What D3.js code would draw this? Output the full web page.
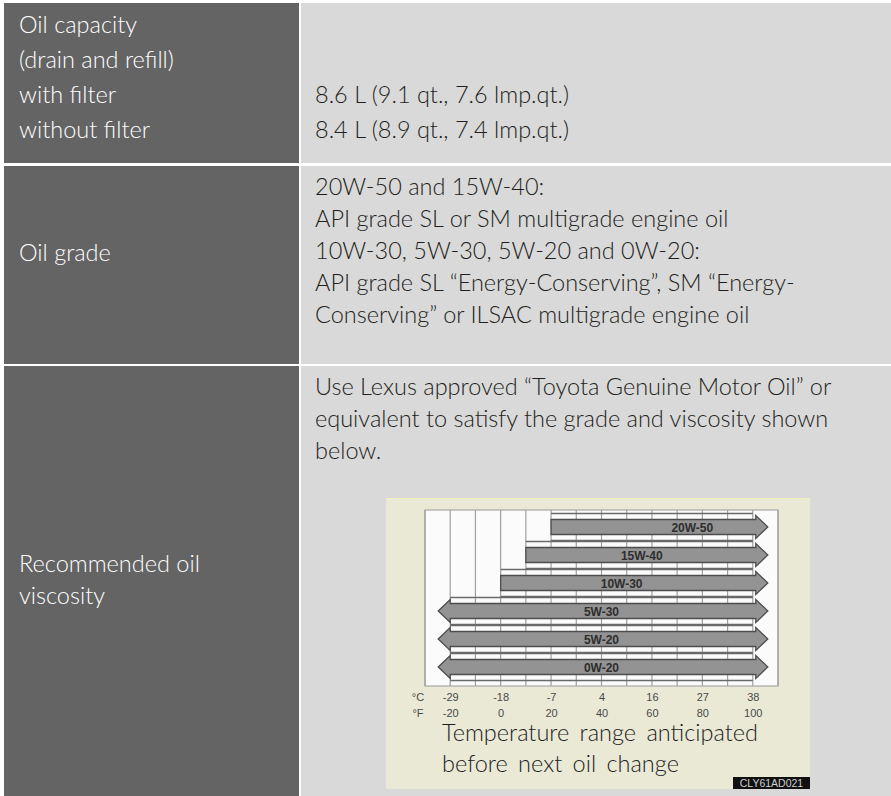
<!DOCTYPE html>
<html>
<head>
<meta charset="utf-8">
<script src="https://cdn.jsdelivr.net/npm/d3@7"></script>
<style>
  html, body { margin: 0; padding: 0; background: #ffffff; }
  svg { display: block; }
</style>
</head>
<body>
<script>
// ---------------- DATA ----------------
const capacityLabels = ["Oil capacity", "(drain and refill)", "with filter", "without filter"];
const capacityValues = ["8.6 L (9.1 qt., 7.6 lmp.qt.)", "8.4 L (8.9 qt., 7.4 lmp.qt.)"];
const gradeLabel = ["Oil grade"];
const gradeLines = [
  "20W-50 and 15W-40:",
  "API grade SL or SM multigrade engine oil",
  "10W-30, 5W-30, 5W-20 and 0W-20:",
  "API grade SL \u201CEnergy-Conserving\u201D, SM \u201CEnergy-",
  "Conserving\u201D or ILSAC multigrade engine oil"
];
const viscosityLabel = ["Recommended oil", "viscosity"];
const viscosityLines = [
  "Use Lexus approved \u201CToyota Genuine Motor Oil\u201D or",
  "equivalent to satisfy the grade and viscosity shown",
  "below."
];
// chart data
const grades   = ["20W-50", "15W-40", "10W-30", "5W-30", "5W-20", "0W-20"];
const lowF     = [20, 10, 0, -20, -20, -20];
const highF    = [100, 100, 100, 100, 100, 100];
const openLow  = [false, false, false, true, true, true];
const labelF   = [76, 56, 48, 40, 40, 40];
const gridF    = [-30, -20, -10, 0, 10, 20, 30, 40, 50, 60, 70, 80, 90, 100, 110];
const tickF    = [-20, 0, 20, 40, 60, 80, 100];
const tickC    = ["-29", "-18", "-7", "4", "16", "27", "38"];
const captionLines = ["Temperature range anticipated", "before next oil change"];
const imageCode = "CLY61AD021";

// ---------------- LAYOUT ----------------
const W = 891, H = 796;
const svg = d3.select("body").append("svg").attr("width", W).attr("height", H);
const FONT = "Lato, 'Open Sans', sans-serif";
const SANS = "Arial, 'Liberation Sans', sans-serif";
const leftX0 = 4, leftX1 = 299, rightX0 = 301;
const rows = [[3, 163], [166, 364], [366, 796]];

rows.forEach(([y0, y1]) => {
  svg.append("rect").attr("x", leftX0).attr("y", y0).attr("width", leftX1 - leftX0).attr("height", y1 - y0).attr("fill", "#646464");
  svg.append("rect").attr("x", rightX0).attr("y", y0).attr("width", W - rightX0).attr("height", y1 - y0).attr("fill", "#d9d9d9");
});

function textBlock(lines, x, firstBaseline, lh, fill) {
  const g = svg.append("g");
  g.selectAll("text").data(lines).join("text")
    .attr("x", x).attr("y", (d, i) => firstBaseline + i * lh)
    .attr("font-family", FONT).attr("font-weight", 300).attr("font-size", 23.5)
    .attr("fill", fill).text(d => d);
  return g;
}
// row 1
textBlock(capacityLabels, 19, 33, 35, "#ffffff");
textBlock(capacityValues, 315, 33 + 2 * 35, 35, "#231f20");
// row 2
textBlock(gradeLines, 315, 195, 32, "#231f20");
textBlock(gradeLabel, 19, 195 + 2 * 32 + 2, 32, "#ffffff");
// row 3
textBlock(viscosityLines, 315, 395, 32, "#231f20");
textBlock(viscosityLabel, 19, 572, 32, "#ffffff");

// ---------------- CHART ----------------
const chart = svg.append("g");
chart.append("rect").attr("x", 386).attr("y", 498).attr("width", 424).attr("height", 291).attr("fill", "#e9e9d6");
chart.append("line").attr("x1", 386).attr("x2", 810).attr("y1", 498.5).attr("y2", 498.5).attr("stroke", "#f2f2b8").attr("stroke-width", 1);

const x = d3.scaleLinear().domain([-30, 110]).range([425, 778]);
const y = d3.scalePoint().domain(grades).range([527, 667]);
const gTop = 510, gBot = 686;

chart.append("rect").attr("x", x(-30)).attr("y", gTop).attr("width", x(110) - x(-30)).attr("height", gBot - gTop)
  .attr("fill", "#fbfbfb").attr("stroke", "#9a9a9a").attr("stroke-width", 1);

chart.selectAll("line.vg").data(gridF).join("line").attr("class", "vg")
  .attr("x1", d => x(d)).attr("x2", d => x(d)).attr("y1", gTop).attr("y2", gBot)
  .attr("stroke", "#a0a0a0").attr("stroke-width", 1.2);

const bars = grades.map((g, i) => ({ g, lo: lowF[i], hi: highF[i], open: openLow[i], lab: labelF[i] }));

chart.selectAll("line.hg").data(bars.flatMap(b => [[b, -13.5], [b, 13.5]])).join("line").attr("class", "hg")
  .attr("x1", d => x(d[0].lo)).attr("x2", x(100))
  .attr("y1", d => y(d[0].g) + d[1]).attr("y2", d => y(d[0].g) + d[1])
  .attr("stroke", "#6a6a6a").attr("stroke-width", 1.5);

const bh = 7.5, hh = 11.5, hl = 12;
function arrowPath(b) {
  const cy = y(b.g);
  const xr = x(b.hi) + 3;
  const xl = x(b.lo);
  const p = d3.path();
  if (b.open) {
    p.moveTo(xl - hl, cy);
    p.lineTo(xl, cy - hh);
    p.lineTo(xl, cy - bh);
  } else {
    p.moveTo(xl, cy - bh);
  }
  p.lineTo(xr, cy - bh);
  p.lineTo(xr, cy - hh);
  p.lineTo(xr + hl, cy);
  p.lineTo(xr, cy + hh);
  p.lineTo(xr, cy + bh);
  if (b.open) {
    p.lineTo(xl, cy + bh);
    p.lineTo(xl, cy + hh);
  } else {
    p.lineTo(xl, cy + bh);
  }
  p.closePath();
  return p.toString();
}
chart.selectAll("path.bar").data(bars).join("path").attr("class", "bar")
  .attr("d", arrowPath)
  .attr("fill", "#939393").attr("stroke", "#4d4d4d").attr("stroke-width", 1.3).attr("stroke-linejoin", "miter");

chart.selectAll("text.bl").data(bars).join("text").attr("class", "bl")
  .attr("x", d => x(d.lab)).attr("y", d => y(d.g) + 4.5)
  .attr("text-anchor", "middle").attr("font-family", SANS)
  .attr("font-weight", "bold").attr("font-size", 12).attr("fill", "#2e2e2e").text(d => d.g);

const axC = d3.axisBottom(x).tickValues(tickF).tickSize(0).tickFormat((d, i) => tickC[i]);
const axF = d3.axisBottom(x).tickValues(tickF).tickSize(0).tickFormat(d => String(d));
function styleAxis(g) {
  g.select(".domain").remove();
  g.selectAll("text").attr("font-family", SANS).attr("font-size", 11).attr("fill", "#4a4a4a").attr("y", 0).attr("dy", 0);
}
chart.append("g").attr("transform", "translate(0,701)").call(axC).call(styleAxis);
chart.append("g").attr("transform", "translate(0,717)").call(axF).call(styleAxis);
chart.append("text").attr("x", 418).attr("y", 701).attr("text-anchor", "middle")
  .attr("font-family", SANS).attr("font-size", 11).attr("fill", "#4a4a4a").text("\u00B0C");
chart.append("text").attr("x", 418).attr("y", 717).attr("text-anchor", "middle")
  .attr("font-family", SANS).attr("font-size", 11).attr("fill", "#4a4a4a").text("\u00B0F");

chart.selectAll("text.cap").data(captionLines).join("text").attr("class", "cap")
  .attr("x", 442).attr("y", (d, i) => 741 + i * 31)
  .attr("font-family", FONT).attr("font-weight", 300).attr("font-size", 23.5)
  .attr("word-spacing", 4).attr("fill", "#1e1e1e").text(d => d);

chart.append("rect").attr("x", 733).attr("y", 777).attr("width", 77).attr("height", 12).attr("fill", "#111");
chart.append("text").attr("x", 771.5).attr("y", 787).attr("text-anchor", "middle")
  .attr("font-family", SANS).attr("font-size", 10.5).attr("fill", "#cfcfcf").text(imageCode);
</script>
</body>
</html>
